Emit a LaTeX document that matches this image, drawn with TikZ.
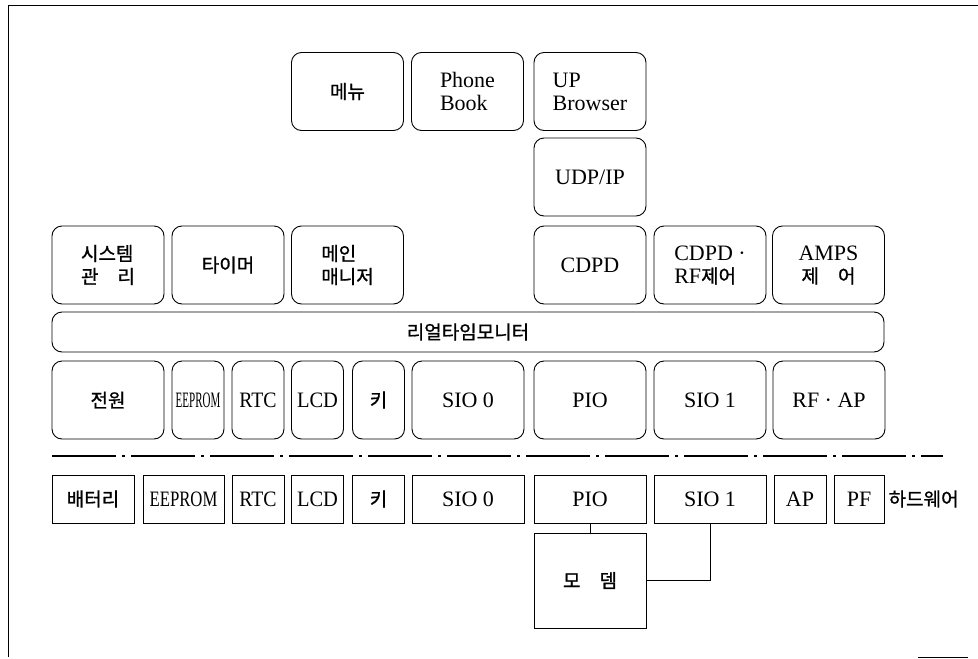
\documentclass[tikz,border=0pt]{standalone}
\usepackage{fontspec}
\usepackage{graphicx}
\setmainfont{Liberation Serif}
\newfontfamily\krfont[FakeBold=1]{Noto Sans CJK KR}
\newcommand{\fixlines}{\lineskiplimit=-30pt\relax}
\newcommand{\ko}[1]{{\krfont\fontsize{19}{23}\selectfont #1}}

\tikzset{
  swbox/.style={draw, line width=0.9pt, rounded corners=10pt, inner sep=0pt,
    minimum height=78pt, align=center,
    font=\fontsize{22}{23}\selectfont\fixlines},
  hwbox/.style={draw, line width=0.9pt, inner sep=0pt,
    minimum height=48pt, align=center, font=\fontsize{22}{23}\selectfont},
  kr/.style={font=\krfont\fontsize{19}{23}\selectfont\fixlines},
  wide/.style={minimum width=112pt},
  narrow/.style={minimum width=52pt},
}

\begin{document}
\begin{tikzpicture}[x=1pt, y=-1pt]
  \useasboundingbox (0,0) rectangle (978,659);
  % Scanned frame
  \draw[line width=0.6pt] (8,657) -- (8,5) -- (978,5);
  \draw[line width=0.6pt] (918,657) -- (968,657);
  % Applications
  \node[swbox, wide, kr] (menu) at (347.5,91.5) {메뉴};
  \node[swbox, wide, align=left] (phone) at (467.5,91.5) {Phone\\Book};
  \node[swbox, wide, align=left] (upb) at (590,91.5) {UP\\Browser};
  \node[swbox, wide] (udp) at (590,177) {UDP/IP};
  % Tasks over the monitor
  \node[swbox, wide, kr, align=left] (sys) at (108,265) {시스템\\관\hspace{1em}리};
  \node[swbox, wide, kr] (timer) at (228,265) {타이머};
  \node[swbox, wide, kr, align=left] (mainmgr) at (347.5,265) {메인\\매니저};
  \node[swbox, wide] (cdpd) at (590,265) {CDPD};
  \node[swbox, wide, align=left] (cdpdrf) at (710,265) {CDPD ·\\RF\ko{제어}};
  \node[swbox, wide] (amps) at (828.5,265) {AMPS\\\ko{제\hspace{1em}어}};
  % Real-time monitor
  \node[swbox, kr, minimum width=832pt, minimum height=40pt] (rtm) at (468,332) {리얼타임모니터};
  % Drivers
  \node[swbox, wide, kr] (power) at (108,400) {전원};
  \node[swbox, narrow] (eeprom) at (198,400) {\scalebox{0.5}[1]{EEPROM}};
  \node[swbox, narrow] (rtc) at (258,400) {\scalebox{0.9}[1]{RTC}};
  \node[swbox, narrow] (lcd) at (317.5,400) {\scalebox{0.93}[1]{LCD}};
  \node[swbox, narrow, kr] (key) at (378.5,400) {키};
  \node[swbox, wide] (sio0) at (468,400) {SIO 0};
  \node[swbox, wide] (pio) at (590,400) {PIO};
  \node[swbox, wide] (sio1) at (710,400) {SIO 1};
  \node[swbox, wide] (rfap) at (829,400) {RF · AP};
  % Software / hardware border
  \draw[line width=1.5pt, dash pattern=on 64pt off 6pt on 3pt off 6pt] (52,456) -- (943,456);
  % Hardware
  \node[hwbox, kr, minimum width=82pt] (hbat) at (93,499) {배터리};
  \node[hwbox, minimum width=81pt] (heeprom) at (183.5,499) {\scalebox{0.76}[1]{EEPROM}};
  \node[hwbox, narrow] (hrtc) at (258,499) {\scalebox{0.9}[1]{RTC}};
  \node[hwbox, narrow] (hlcd) at (317.5,499) {\scalebox{0.93}[1]{LCD}};
  \node[hwbox, narrow, kr] (hkey) at (378.5,499) {키};
  \node[hwbox, wide] (hsio0) at (468,499) {SIO 0};
  \node[hwbox, wide] (hpio) at (590,499) {PIO};
  \node[hwbox, wide] (hsio1) at (710,499) {SIO 1};
  \node[hwbox, narrow] (hap) at (800,499) {AP};
  \node[hwbox, minimum width=50pt] (hpf) at (859,499) {PF};
  \node[kr, anchor=west, inner sep=0pt] (hwlabel) at ([xshift=4pt]hpf.east) {하드웨어};
  % Modem
  \node[hwbox, wide, kr, minimum height=95pt] (modem) at (590,580.5) {모\hspace{1em}뎀};
  \draw[line width=0.6pt] (hpio) -- (modem);
  \draw[line width=0.6pt] (hsio1.south) |- (modem.east);
\end{tikzpicture}
\end{document}
